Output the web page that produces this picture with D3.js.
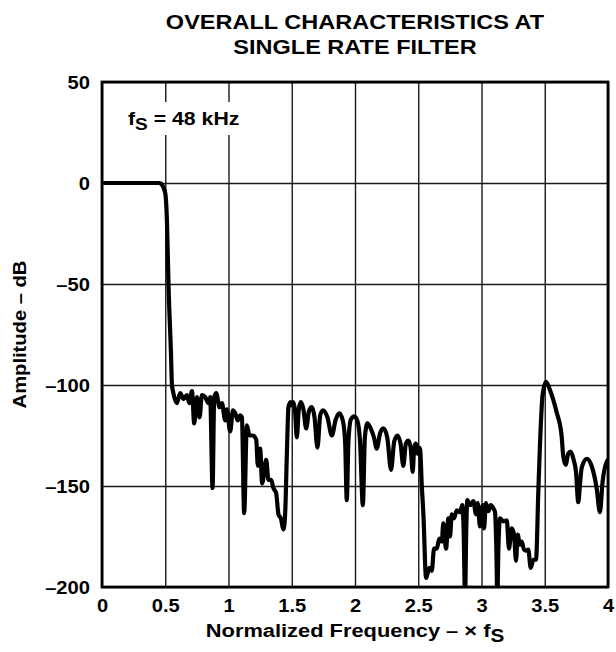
<!DOCTYPE html>
<html>
<head>
<meta charset="utf-8">
<script src="https://cdn.jsdelivr.net/npm/d3@7"></script>
<style>
  html, body { margin: 0; padding: 0; background: #fff; }
  svg { display: block; }
  text { font-family: "Liberation Sans", Arial, Helvetica, sans-serif; font-weight: bold; fill: #000; }
</style>
</head>
<body>
<svg id="chart" width="616" height="652"></svg>
<script>
// ---------- data ----------
const titleLines = ["OVERALL CHARACTERISTICS AT", "SINGLE RATE FILTER"];
const xTicks = [0, 0.5, 1, 1.5, 2, 2.5, 3, 3.5, 4];
const xTickLabels = ["0", "0.5", "1", "1.5", "2", "2.5", "3", "3.5", "4"];
const yTicks = [50, 0, -50, -100, -150, -200];
const yTickLabels = ["50", "0", "–50", "–100", "–150", "–200"];

const freq = [
  0.02, 0.45, 0.465, 0.48, 0.5, 0.513, 0.526, 0.545, 0.553, 0.561,
  0.592, 0.618, 0.645, 0.671, 0.690, 0.711, 0.729, 0.750, 0.771, 0.790,
  0.816, 0.842, 0.855, 0.874, 0.887, 0.903, 0.929, 0.948, 0.974, 0.987,
  1.013, 1.035, 1.053, 1.074, 1.092, 1.106, 1.124, 1.145, 1.166, 1.192,
  1.219, 1.232, 1.250, 1.266, 1.298, 1.316, 1.337, 1.355, 1.377, 1.395,
  1.414, 1.435, 1.448, 1.461, 1.474, 1.490, 1.500, 1.510, 1.525, 1.540,
  1.556, 1.572, 1.592, 1.614, 1.636, 1.659, 1.680, 1.703, 1.725, 1.746,
  1.782, 1.817, 1.848, 1.877, 1.905, 1.922, 1.935, 1.948, 1.968, 1.995,
  2.020, 2.040, 2.062, 2.078, 2.098, 2.120, 2.150, 2.172, 2.198, 2.225,
  2.255, 2.285, 2.310, 2.335, 2.360, 2.382, 2.402, 2.422, 2.440, 2.456,
  2.468, 2.480, 2.495, 2.505, 2.515, 2.528, 2.540, 2.562, 2.575, 2.588,
  2.607, 2.625, 2.646, 2.667, 2.686, 2.698, 2.720, 2.738, 2.751, 2.765,
  2.783, 2.804, 2.830, 2.848, 2.858, 2.870, 2.880, 2.888, 2.909, 2.935,
  2.957, 2.970, 2.988, 3.010, 3.020, 3.035, 3.054, 3.073, 3.093, 3.107,
  3.117, 3.125, 3.134, 3.146, 3.172, 3.200, 3.217, 3.239, 3.257, 3.273,
  3.286, 3.304, 3.318, 3.336, 3.352, 3.370, 3.389, 3.410, 3.431, 3.449,
  3.462, 3.483, 3.510, 3.541, 3.594, 3.633, 3.646, 3.665, 3.686, 3.705,
  3.726, 3.747, 3.765, 3.780, 3.792, 3.831, 3.870, 3.910, 3.936, 3.957,
  3.990, 4.000
];
const amplitude = [
  0, 0, -0.3, -1.5, -5, -18, -51, -84, -100, -103,
  -109, -104, -107, -105, -109, -103, -119, -106, -116, -105,
  -106, -109, -106, -151, -106, -104, -111, -109, -117.5, -112,
  -123, -112.6, -114, -117.5, -115, -116, -163.5, -120, -125, -125,
  -127, -140, -131.5, -148.7, -137, -147, -147, -151, -153.6, -164,
  -166, -171.5, -163.5, -135, -111, -108.5, -110, -108.5, -112, -126,
  -112, -108.5, -112, -121.5, -113, -111, -116, -131, -115, -112.5,
  -116, -125, -117, -114, -118, -128, -157, -128, -117, -115.5,
  -118, -128, -159.5, -126, -119, -121, -126, -131.5, -124, -121.5,
  -126, -142, -128, -125, -129, -140, -129, -127.5, -131, -143,
  -131, -129, -134, -131, -132, -150, -163, -195.5, -193, -190.5,
  -192, -181, -181, -176, -177.5, -168.5, -181, -166, -175, -164,
  -166, -162, -163, -159.5, -170, -205, -170, -157, -159.5, -157.5,
  -164, -158.5, -170, -159.5, -171, -158.5, -162.5, -159.5, -161, -163,
  -180, -205, -180, -166, -167.5, -167, -181, -171, -174, -187,
  -174, -179, -177.5, -181.5, -182, -181.5, -190.5, -186.5, -186.5, -153,
  -130, -105, -98.5, -102.5, -113.5, -125, -135, -139.5, -134, -133,
  -136.5, -143, -158, -148, -141, -136.5, -140, -151, -163, -148,
  -138, -137
];

// ---------- layout ----------
const svg = d3.select("#chart");
const m = { left: 102, right: 608, top: 82, bottom: 587 };
const STRETCH = 1.12;

const x = d3.scaleLinear().domain([0, 4]).range([m.left, m.right]);
const y = d3.scaleLinear().domain([-200, 50]).range([m.bottom, m.top]);

// title
svg.selectAll("text.title").data(titleLines).join("text")
  .attr("class", "title")
  .attr("text-anchor", "middle")
  .attr("font-size", 21)
  .attr("transform", (d, i) => `translate(${(m.left + m.right) / 2},29) translate(0,${i * 25}) scale(${STRETCH},1)`)
  .text(d => d);

// grid via axes
const gx = svg.append("g")
  .attr("transform", `translate(0,${m.bottom})`)
  .call(d3.axisBottom(x).tickValues(xTicks).tickSize(-(m.bottom - m.top))
    .tickFormat((d, i) => xTickLabels[i]));
gx.select(".domain").remove();
gx.selectAll(".tick line").attr("stroke", "#1a1a1a").attr("stroke-width", 1.4);
gx.selectAll(".tick text")
  .attr("font-size", 18).attr("font-family", null).attr("y", 0).attr("dy", 0)
  .attr("transform", `translate(0,25) scale(${STRETCH},1)`)
  .attr("fill", "#000");

const gy = svg.append("g")
  .attr("transform", `translate(${m.left},0)`)
  .call(d3.axisLeft(y).tickValues(yTicks).tickSize(-(m.right - m.left))
    .tickFormat((d, i) => yTickLabels[i]));
gy.select(".domain").remove();
gy.selectAll(".tick line").attr("stroke", "#1a1a1a").attr("stroke-width", 1.4);
gy.selectAll(".tick text")
  .attr("font-size", 18).attr("font-family", null).attr("x", 0).attr("dy", "0.35em")
  .attr("transform", `translate(-12,0) scale(${STRETCH},1)`)
  .attr("fill", "#000");

// annotation with white background
svg.append("rect").attr("x", 124).attr("y", 102).attr("width", 124).attr("height", 33).attr("fill", "#fff");
const ann = svg.append("text").attr("font-size", 19)
  .attr("transform", `translate(128,125) scale(${STRETCH},1)`);
ann.append("tspan").text("f");
ann.append("tspan").attr("font-size", 17).attr("dy", 5).text("S");
ann.append("tspan").attr("dy", -5).text(" = 48 kHz");

// data curve
svg.append("clipPath").attr("id", "clip").append("rect")
  .attr("x", m.left).attr("y", m.top).attr("width", m.right - m.left).attr("height", m.bottom - m.top);
const pts = freq.map((f, i) => [f, amplitude[i]]);
const line = d3.line().x(d => x(d[0])).y(d => y(d[1])).curve(d3.curveMonotoneX);
svg.append("path").datum(pts)
  .attr("clip-path", "url(#clip)")
  .attr("d", line).attr("fill", "none").attr("stroke", "#000")
  .attr("stroke-width", 4.2).attr("stroke-linejoin", "round").attr("stroke-linecap", "round");

// frame
svg.append("rect").attr("x", m.left).attr("y", m.top)
  .attr("width", m.right - m.left).attr("height", m.bottom - m.top)
  .attr("fill", "none").attr("stroke", "#000").attr("stroke-width", 2.8);

// axis titles
const xt = svg.append("text").attr("font-size", 19).attr("text-anchor", "middle")
  .attr("transform", `translate(${(m.left + m.right) / 2},637) scale(1.15,1)`);
xt.append("tspan").text("Normalized Frequency – \u00D7 f");
xt.append("tspan").attr("font-size", 18).attr("dy", 5).text("S");

svg.append("text").attr("font-size", 18).attr("text-anchor", "middle")
  .attr("transform", `translate(26,${(m.top + m.bottom) / 2}) rotate(-90) scale(${STRETCH},1)`)
  .text("Amplitude – dB");
</script>
</body>
</html>
